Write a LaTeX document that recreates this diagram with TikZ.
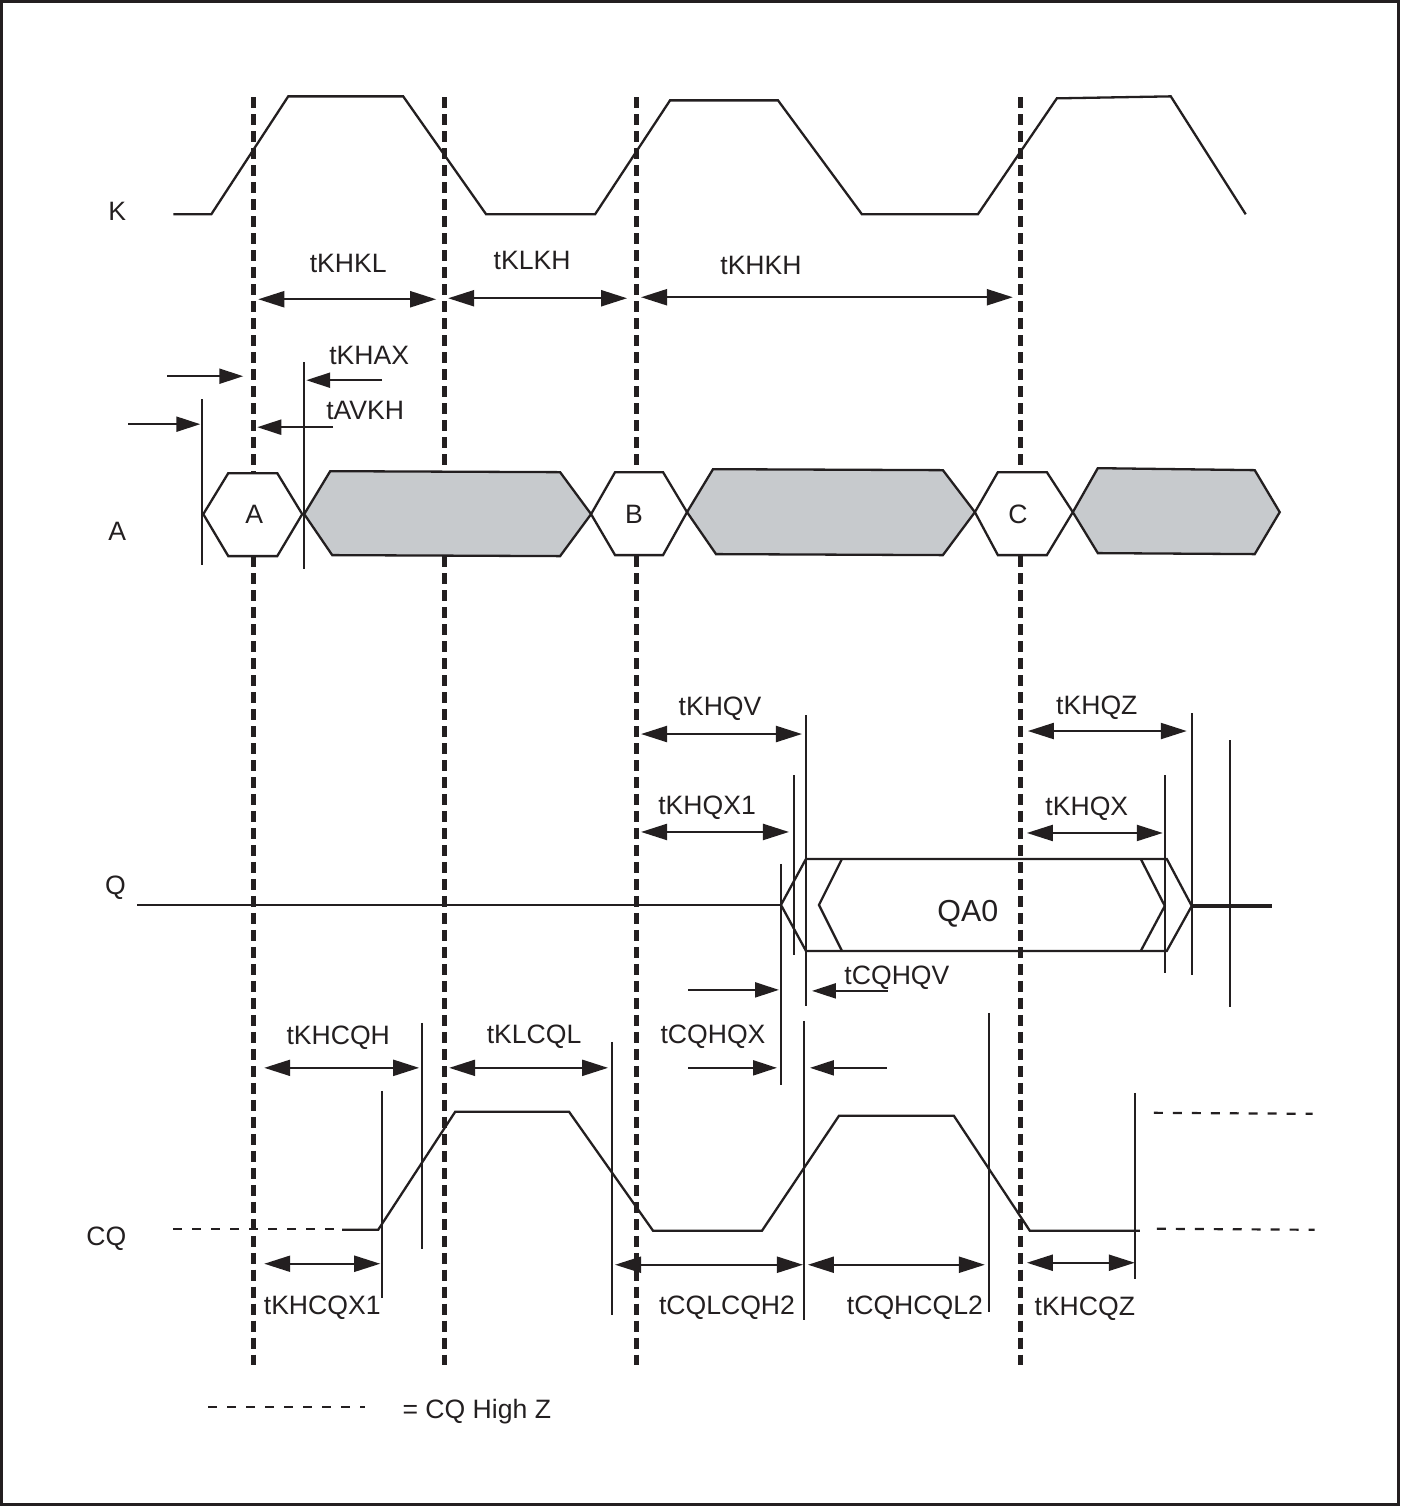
\documentclass[tikz,border=0pt]{standalone}
\usepackage{fontspec}
\setmainfont{Liberation Sans}
\usetikzlibrary{arrows.meta}
\definecolor{busgray}{RGB}{199,202,205}
\definecolor{ink}{RGB}{35,31,32}
\begin{document}
\begin{tikzpicture}[x=0.5pt,y=-0.5pt,
  every path/.style={draw=ink},
  sig/.style={line width=1.15pt, line join=miter},
  vline/.style={line width=1pt},
  klines/.style={line width=2.5pt, dash pattern=on 5.5pt off 3pt},
  hiz/.style={line width=1.1pt, dash pattern=on 4.5pt off 5pt},
  dim/.style={line width=1.1pt, {Triangle[length=13pt,width=8pt]}-{Triangle[length=13pt,width=8pt]}},
  ptr/.style={line width=1.1pt, -{Triangle[length=12pt,width=7.5pt]}},
  lbl/.style={font=\fontsize{13.3}{15}\selectfont, text=ink, inner sep=0pt, text height=9.5pt, text depth=0pt},
  biglbl/.style={font=\fontsize{15.2}{17}\selectfont, text=ink, inner sep=0pt, text height=10.8pt, text depth=0pt},
  bus/.style={line width=1.15pt, fill=busgray, line join=miter},
  hexa/.style={line width=1.15pt, fill=white, line join=miter},
]
\useasboundingbox (0,0) rectangle (1400,1506);
% frame
\draw[line width=1pt] (1.5,1.5) rectangle (1398.5,1504.5);

% signal names
\node[lbl] (nK) at (117,211) {K};
\node[lbl] (nA) at (117,531) {A};
\node[lbl] (nQ) at (115,885) {Q};
\node[lbl] (nCQ) at (106,1236) {CQ};

% clock edge reference lines
\foreach \x in {253,444,636,1021}
  \draw[klines] (\x,97) -- (\x,1365);

% K waveform
\draw[sig] (173,214) -- (211,214) -- (288,96) -- (403,96) -- (486,214) -- (595,214)
  -- (670,100) -- (778,100) -- (862,214) -- (978,214) -- (1057,98) -- (1171,96) -- (1246,214);

% K timing
\node[lbl] (tKHKL) at (348,263) {tKHKL};
\node[lbl] (tKLKH) at (532,260) {tKLKH};
\node[lbl] (tKHKH) at (761,265) {tKHKH};
\draw[dim] (258,299) -- (436,299);
\draw[dim] (448,298) -- (627,298);
\draw[dim] (641,297) -- (1013,297);

% address setup/hold
\node[lbl] (tKHAX) at (369,355) {tKHAX};
\node[lbl] (tAVKH) at (365,410) {tAVKH};
\draw[ptr] (167,376) -- (243,376);
\draw[ptr] (128,424) -- (200,424);
\draw[ptr] (382,380) -- (306,380);
\draw[ptr] (333,427) -- (257,427);
\draw[vline] (202,399) -- (202,565);

% A bus
\draw[hexa] (203,514) -- (228,473) -- (277,473) -- (302,514) -- (277,556) -- (228,556) -- cycle;
\draw[bus] (304,514) -- (330,471) -- (560,472) -- (591,514) -- (560,556) -- (332,555) -- cycle;
\draw[hexa] (591,514) -- (615,472) -- (663,472) -- (687,512) -- (663,555) -- (615,555) -- cycle;
\draw[bus] (687,512) -- (713,469) -- (943,470) -- (975,512) -- (943,555) -- (716,554) -- cycle;
\draw[hexa] (975,512) -- (998,472) -- (1047,472) -- (1073,512) -- (1047,555) -- (998,555) -- cycle;
\draw[bus] (1073,512) -- (1098,468) -- (1255,470) -- (1280,512) -- (1255,554) -- (1098,553) -- cycle;
\draw[vline] (304,362) -- (304,569);
\node[lbl] (adA) at (254,514) {A};
\node[lbl] (adB) at (634,514) {B};
\node[lbl] (adC) at (1018,514) {C};

% Q timing
\node[lbl] (tKHQV) at (720,706) {tKHQV};
\node[lbl] (tKHQX1) at (707,805) {tKHQX1};
\node[lbl] (tKHQZ) at (1097,705) {tKHQZ};
\node[lbl] (tKHQX) at (1087,806) {tKHQX};
\draw[dim] (641,734) -- (802,734);
\draw[dim] (641,832) -- (789,832);
\draw[dim] (1028,731) -- (1187,731);
\draw[dim] (1027,833) -- (1163,833);
\draw[vline] (806,715) -- (806,1006);
\draw[vline] (794,775) -- (794,955);
\draw[vline] (781,864) -- (781,1085);
\draw[vline] (1165,775) -- (1165,973);
\draw[vline] (1192,713) -- (1192,975);
\draw[vline] (1230,740) -- (1230,1007);

% Q waveform
\draw[sig] (137,905) -- (781,905);
\draw[sig] (781,905) -- (806,859) -- (1167,859) -- (1192,906) -- (1167,951) -- (806,951) -- cycle;
\draw[sig] (842,859) -- (819,905) -- (842,951);
\draw[sig] (1141,859) -- (1165,906) -- (1141,951);
\draw[line width=1.6pt] (1192,906) -- (1272,906);
\node[biglbl] (QA0) at (968,911) {QA0};

% CQ to Q
\node[lbl] (tCQHQV) at (897,975) {tCQHQV};
\node[lbl] (tCQHQX) at (713,1034) {tCQHQX};
\draw[ptr] (688,990) -- (779,990);
\draw[ptr] (888,991) -- (812,991);
\draw[ptr] (688,1068) -- (777,1068);
\draw[ptr] (887,1068) -- (810,1068);

% CQ timing
\node[lbl] (tKHCQH) at (338,1035) {tKHCQH};
\node[lbl] (tKLCQL) at (534,1034) {tKLCQL};
\draw[dim] (264,1068) -- (419,1068);
\draw[dim] (449,1068) -- (608,1068);
\draw[vline] (422,1023) -- (422,1249);
\draw[vline] (382,1091) -- (382,1298);
\draw[vline] (612,1042) -- (612,1315);
\draw[vline] (804,1021) -- (804,1320);
\draw[vline] (989,1013) -- (989,1312);
\draw[vline] (1135,1093) -- (1135,1279);

% CQ waveform
\draw[hiz] (173,1229) -- (342,1229);
\draw[sig] (342,1230) -- (378,1230) -- (455,1112) -- (569,1112) -- (653,1231) -- (762,1231)
  -- (839,1116) -- (954,1116) -- (1030,1231) -- (1140,1231);
\draw[hiz] (1154,1113) -- (1313,1114);
\draw[hiz] (1157,1229) -- (1315,1230);

\draw[dim] (264,1264) -- (380,1264);
\draw[dim] (615,1265) -- (803,1265);
\draw[dim] (808,1265) -- (985,1265);
\draw[dim] (1027,1263) -- (1135,1263);
\node[lbl] (tKHCQX1) at (322,1305) {tKHCQX1};
\node[lbl] (tCQLCQH2) at (727,1305) {tCQLCQH2};
\node[lbl] (tCQHCQL2) at (915,1305) {tCQHCQL2};
\node[lbl] (tKHCQZ) at (1085,1306) {tKHCQZ};

% legend
\draw[hiz] (208,1407) -- (365,1407);
\node[lbl, anchor=west] (legend) at (402,1409) {= CQ High Z};
\end{tikzpicture}
\end{document}
